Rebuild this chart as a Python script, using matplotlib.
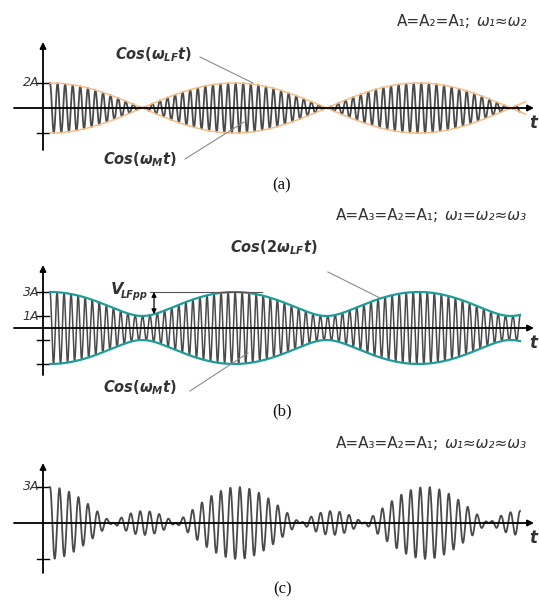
import numpy as np
import matplotlib.pyplot as plt

plt.rcParams['mathtext.fontset'] = 'custom'
plt.rcParams['mathtext.it'] = 'DejaVu Sans:italic:bold'
plt.rcParams['mathtext.rm'] = 'DejaVu Sans:bold'
plt.rcParams['mathtext.bf'] = 'DejaVu Sans:bold'

# --- signal parameters (time runs 0..1 over the drawn window) ---
freq_a = [63.3, 60.75]          # w1 ~ w2
amp_a = [1.0, 1.0]
freq_b = [66.0, 66.0, 68.55]    # w1 = w2 ~ w3
amp_b = [1.0, 1.0, 1.0]
freq_c = [47.0, 49.5, 52.0]     # w1 ~ w2 ~ w3
amp_c = [1.0, 1.0, 1.0]

ticks_a = [2, -2]
ticklab_a = ["2A", ""]
ticks_b = [3, 1, -1, -3]
ticklab_b = ["3A", "1A", "", ""]
ticks_c = [3, -3]
ticklab_c = ["3A", ""]

W, H = 539, 603
T0, T1 = 50, 520                # pixel columns of t=0 and t=1
t = np.linspace(0, 1, 4000)

SIG = '#4a4a4a'
LEAD = '#8a8a8a'
TXT = '#333333'

fig = plt.figure(figsize=(W / 100, H / 100), dpi=100)


def make_panel(axis_px, a_px):
    ax = fig.add_axes([0, 0, 1, 1])
    ax.set_xlim(-T0 / (T1 - T0), (W - T0) / (T1 - T0))
    ax.set_ylim(-(H - axis_px) / a_px, axis_px / a_px)
    ax.axis('off')
    px = lambda x: (x - T0) / (T1 - T0)
    py = lambda y: (axis_px - y) / a_px
    return ax, px, py


def draw_axes(ax, px, py, axis_px, v_top, v_bot, ticks, labels):
    arr = dict(arrowstyle='-|>', color='k', lw=1.3, mutation_scale=9,
               shrinkA=0, shrinkB=0)
    ax.annotate('', xy=(px(534), 0), xytext=(px(14), 0), arrowprops=arr)
    ax.annotate('', xy=(px(43), py(v_top)), xytext=(px(43), py(v_bot)),
                arrowprops=arr)
    for tk, lab in zip(ticks, labels):
        ax.plot([px(37), px(49)], [tk, tk], color='k', lw=1)
        if lab:
            ax.text(px(39), tk, lab, ha='right', va='center', fontsize=9,
                    style='italic', color=TXT)
    ax.text(px(529), py(axis_px + 15), 't', ha='left', va='center',
            fontsize=12, style='italic', fontweight='bold', color=TXT)


def top_note(ax, px, py, y, left, right):
    r = ax.text(px(527), py(y), right, ha='right', va='center', fontsize=11,
                style='italic', color=TXT)
    ax.annotate(left, xy=(0, 0.5), xycoords=r, xytext=(-4, 0),
                textcoords='offset points', ha='right', va='center',
                fontsize=11, color=TXT)


def signal(freqs, amps):
    return sum(a * np.cos(2 * np.pi * f * t) for f, a in zip(freqs, amps))


# ---------------- (a) ----------------
ax, px, py = make_panel(108, 12.5)
draw_axes(ax, px, py, 108, 42, 150, ticks_a, ticklab_a)
ax.plot(t, signal(freq_a, amp_a), color=SIG, lw=1.3)
te = np.linspace(0, 1.012, 1000)
env_a = 2 * np.abs(np.cos(np.pi * (freq_a[0] - freq_a[1]) * te))
ax.plot(te, env_a, color='#f5bd85', lw=1.1)
ax.plot(te, -env_a, color='#f5bd85', lw=1.1)
ax.text(px(115), py(55), r'$Cos(\omega_{LF}t)$', ha='left', va='center',
        fontsize=10.5, color=TXT)
ax.plot([px(200), px(253)], [py(57), py(83)], color=LEAD, lw=0.8)
ax.text(px(103), py(160), r'$Cos(\omega_{M}t)$', ha='left', va='center',
        fontsize=10.5, color=TXT)
ax.plot([px(185), px(244)], [py(159), py(122)], color=LEAD, lw=0.8)
top_note(ax, px, py, 22, 'A=A₂=A₁;', 'ω₁≈ω₂')
ax.text(px(282), py(185), '(a)', ha='center', va='center', fontsize=12,
        family='Liberation Serif', color='#111')

# ---------------- (b) ----------------
ax, px, py = make_panel(328, 12)
draw_axes(ax, px, py, 328, 265, 375, ticks_b, ticklab_b)
ax.plot(t, signal(freq_b, amp_b), color=SIG, lw=1.1)
dfb = freq_b[2] - freq_b[0]
env_b = np.sqrt(5 + 4 * np.cos(2 * np.pi * dfb * t))
ax.plot(t, env_b, color='#1f9c98', lw=1.6)
ax.plot(t, -env_b, color='#1f9c98', lw=1.6)
ax.plot([px(150), px(262)], [3, 3], color='#555555', lw=0.8)
ax.annotate('', xy=(px(154), np.sqrt(5 + 4 * np.cos(2 * np.pi * dfb * px(154)))),
            xytext=(px(154), 3),
            arrowprops=dict(arrowstyle='<|-|>', color='k', lw=0.9,
                            mutation_scale=7, shrinkA=0, shrinkB=0))
v = ax.text(px(111), py(290), 'V', ha='left', va='center', fontsize=11.5,
            style='italic', fontweight='bold', color=TXT)
ax.annotate('LFpp', xy=(1, 0.2), xycoords=v, xytext=(-1.5, -2.5),
            textcoords='offset points', ha='left', va='baseline',
            fontsize=7, style='italic', fontweight='bold', color=TXT)
ax.text(px(230), py(248), r'$Cos(2\omega_{LF}t)$', ha='left', va='center',
        fontsize=10.5, color=TXT)
ax.plot([px(328), px(380)], [py(272), py(298)], color=LEAD, lw=0.8)
ax.text(px(103), py(388), r'$Cos(\omega_{M}t)$', ha='left', va='center',
        fontsize=10.5, color=TXT)
ax.plot([px(190), px(248)], [py(391), py(353)], color=LEAD, lw=0.8)
top_note(ax, px, py, 215, 'A=A₃=A₂=A₁;', 'ω₁=ω₂≈ω₃')
ax.text(px(282), py(411), '(b)', ha='center', va='center', fontsize=12,
        family='Liberation Serif', color='#111')

# ---------------- (c) ----------------
ax, px, py = make_panel(523, 12)
draw_axes(ax, px, py, 523, 463, 573, ticks_c, ticklab_c)
ax.plot(t, signal(freq_c, amp_c), color=SIG, lw=1.3)
top_note(ax, px, py, 443, 'A=A₃=A₂=A₁;', 'ω₁≈ω₂≈ω₃')
ax.text(px(283), py(589), '(c)', ha='center', va='center', fontsize=12,
        family='Liberation Serif', color='#111')

fig.savefig('out.png', dpi=100)
